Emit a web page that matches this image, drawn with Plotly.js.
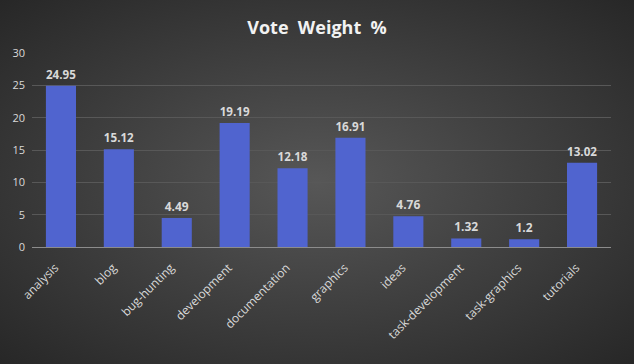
<!DOCTYPE html>
<html><head><meta charset="utf-8">
<script src="https://cdn.plot.ly/plotly-3.0.1.min.js"></script>
<style>
html,body{margin:0;padding:0;}
#chart{width:634px;height:364px;background:radial-gradient(ellipse at 50% 50%, #575757 0%, #414141 45%, #272727 100%);}
</style></head>
<body><div id="chart"></div>
<script>
const categories = ["analysis","blog","bug-hunting","development","documentation","graphics","ideas","task-development","task-graphics","tutorials"];
const values = [24.95,15.12,4.49,19.19,12.18,16.91,4.76,1.32,1.2,13.02];
const labels = ["24.95","15.12","4.49","19.19","12.18","16.91","4.76","1.32","1.2","13.02"];
const yTicks = [0,5,10,15,20,25,30];

Plotly.newPlot('chart',[{
  type:'bar', x:categories, y:values, text:labels, textposition:'outside',
  cliponaxis:false,
  textfont:{family:'Open Sans, sans-serif', size:12, color:'#d9d9d9', weight:'bold'},
  marker:{color:'#5064cf', line:{width:0}},
  width:0.52, hoverinfo:'skip'
}],{
  width:634, height:364,
  paper_bgcolor:'rgba(0,0,0,0)', plot_bgcolor:'rgba(0,0,0,0)',
  margin:{l:32,r:23,t:53,b:117},
  title:{text:'<b>Vote  Weight  %</b>', x:0.5, xanchor:'center', y:0.925, yanchor:'middle',
    font:{family:'Open Sans, sans-serif', size:18, color:'#f2f2f2'}},
  showlegend:false,
  xaxis:{tickangle:-45, tickfont:{family:'Open Sans, sans-serif', size:12, color:'#d9d9d9'},
    showgrid:false, showline:true, linecolor:'#8c8c8c', linewidth:1, ticks:'', fixedrange:true,
    ticklabelstandoff:8, ticklabelshift:-6},
  yaxis:{range:[0,30], tickvals:yTicks, tickfont:{family:'Open Sans, sans-serif', size:11, color:'#d9d9d9'},
    showgrid:true, gridcolor:'#585858', gridwidth:1, zeroline:false, showline:false, ticks:'', ticklabelstandoff:6, fixedrange:true}
},{displayModeBar:false, staticPlot:true});
</script></body></html>
